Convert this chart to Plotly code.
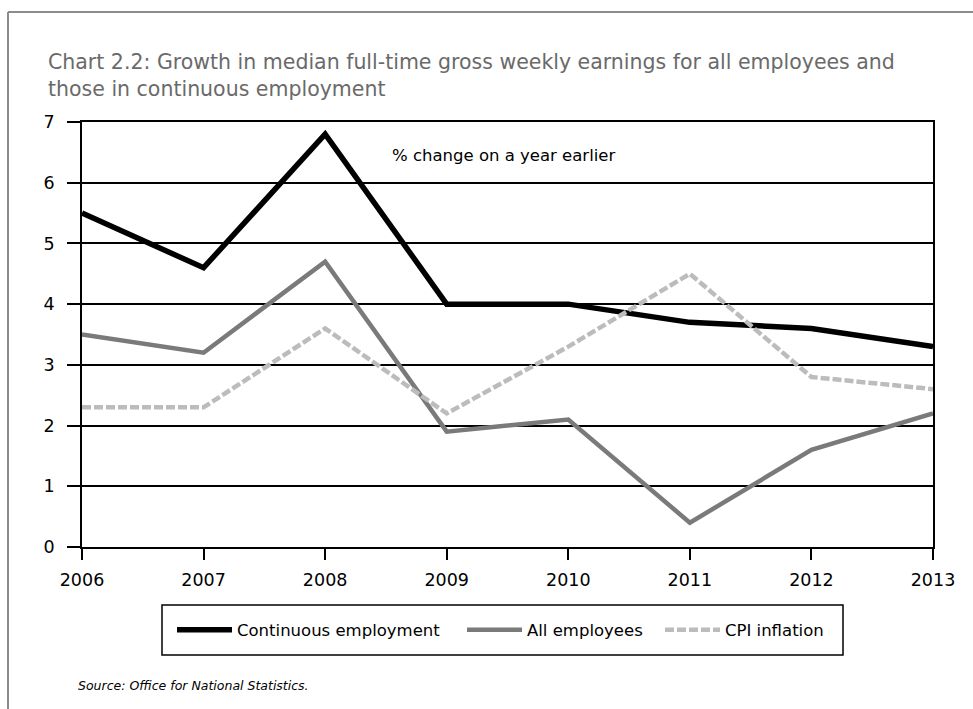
import plotly.graph_objects as go

W, H = 973, 709

years = [2006, 2007, 2008, 2009, 2010, 2011, 2012, 2013]
continuous_employment = [5.5, 4.6, 6.8, 4.0, 4.0, 3.7, 3.6, 3.3]
all_employees = [3.5, 3.2, 4.7, 1.9, 2.1, 0.4, 1.6, 2.2]
cpi_inflation = [2.3, 2.3, 3.6, 2.2, 3.3, 4.5, 2.8, 2.6]
y_ticks = [0, 1, 2, 3, 4, 5, 6, 7]

title_text = ("Chart 2.2: Growth in median full-time gross weekly earnings for all employees and<br>"
              "those in continuous employment")
note_text = "% change on a year earlier"
source_text = "Source: Office for National Statistics."

FONT = "DejaVu Sans"


def px(x):
    return x / W


def py(y):
    return 1 - y / H


fig = go.Figure()

fig.add_trace(go.Scatter(
    x=years, y=continuous_employment, name="Continuous employment", mode="lines",
    line=dict(color="#000000", width=5.5), legend="legend"))
fig.add_trace(go.Scatter(
    x=years, y=all_employees, name="All employees", mode="lines",
    line=dict(color="#7a7a7a", width=4.5), legend="legend2"))
fig.add_trace(go.Scatter(
    x=years, y=cpi_inflation, name="CPI inflation", mode="lines",
    line=dict(color="#bcbcbc", width=4.5, dash="9px,3px"), legend="legend3"))

legend_common = dict(orientation="h", xanchor="left", yanchor="middle",
                     bgcolor="rgba(0,0,0,0)", borderwidth=0, itemwidth=55,
                     font=dict(family=FONT, size=16.5, color="#000"))

tick_font = dict(family=FONT, size=17.5, color="#000")

fig.update_layout(
    width=W, height=H,
    margin=dict(l=0, r=0, t=0, b=0),
    paper_bgcolor="white", plot_bgcolor="white",
    font=dict(family=FONT, color="#000"),
    xaxis=dict(
        domain=[px(82), px(933)], range=[2006, 2013],
        tickmode="array", tickvals=years, ticktext=[str(y) for y in years],
        ticks="outside", ticklen=11, tickwidth=1.5, tickcolor="#000",
        ticklabelstandoff=5,
        showline=True, linecolor="#000", linewidth=1.5, mirror=True,
        showgrid=False, zeroline=False, automargin=False,
        tickfont=tick_font),
    yaxis=dict(
        domain=[py(547), py(122)], range=[0, 7],
        tickmode="array", tickvals=y_ticks,
        ticks="outside", ticklen=13, tickwidth=1.5, tickcolor="#000",
        ticklabelstandoff=9,
        showline=True, linecolor="#000", linewidth=1.5, mirror=True,
        showgrid=True, gridcolor="#000", gridwidth=1.5,
        zeroline=False, automargin=False,
        tickfont=tick_font),
    legend=dict(x=px(172), y=py(630), **legend_common),
    legend2=dict(x=px(462), y=py(630), **legend_common),
    legend3=dict(x=px(660), y=py(630), **legend_common),
    showlegend=True,
)

# outer frame (top and left edges) and legend box
fig.add_shape(type="line", xref="paper", yref="paper",
              x0=px(8), x1=1, y0=py(12), y1=py(12),
              line=dict(color="#8c8c8c", width=2))
fig.add_shape(type="line", xref="paper", yref="paper",
              x0=px(8), x1=px(8), y0=py(12), y1=0,
              line=dict(color="#8c8c8c", width=2))
fig.add_shape(type="rect", xref="paper", yref="paper",
              x0=px(162), x1=px(843), y0=py(605), y1=py(655),
              line=dict(color="#000", width=1.5))

fig.add_annotation(text=title_text, xref="paper", yref="paper",
                   x=px(46), y=py(48), xanchor="left", yanchor="top",
                   align="left", showarrow=False,
                   font=dict(family=FONT, size=20.5, color="#6a6a6a"))
fig.add_annotation(text=note_text, xref="paper", yref="paper",
                   x=px(503), y=py(155), xanchor="center", yanchor="middle",
                   showarrow=False, font=dict(family=FONT, size=16.5, color="#000"))
fig.add_annotation(text="<i>" + source_text + "</i>", xref="paper", yref="paper",
                   x=px(76), y=py(685), xanchor="left", yanchor="middle",
                   showarrow=False, font=dict(family=FONT, size=12.5, color="#000"))

fig.write_html("out.html")
